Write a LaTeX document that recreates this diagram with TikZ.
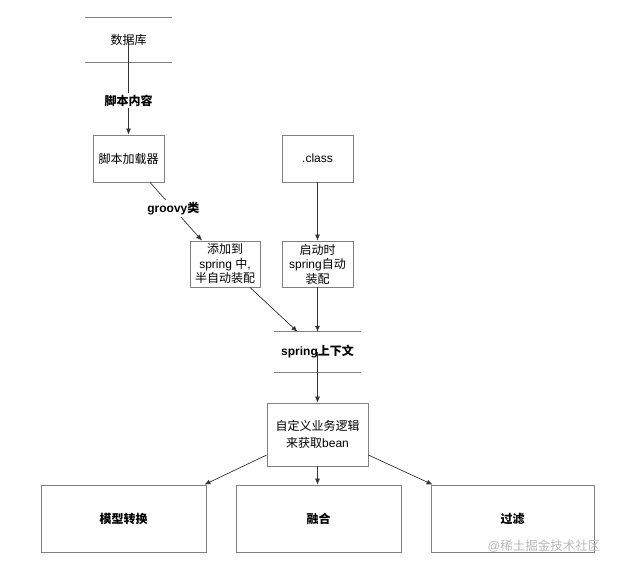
\documentclass[tikz,border=0pt]{standalone}
\usepackage{fontspec}
\setmainfont{Liberation Sans}
\newfontfamily\cjk{Noto Sans CJK SC}
\newcommand{\zh}[1]{{\cjk #1}}
\usetikzlibrary{arrows.meta,calc}
\tikzset{
  box/.style={draw=black!50, line width=0.8pt, inner sep=0pt, align=center, font=\fontsize{12}{15}\selectfont},
  bbox/.style={box, font=\fontsize{12}{15}\selectfont\bfseries},
  store/.style={inner sep=0pt, align=center, font=\fontsize{12}{15}\selectfont},
  conn/.style={draw=black!80, line width=0.7pt, -{Latex[length=6pt,width=5pt]}},
  lbl/.style={fill=white, inner sep=2pt, font=\fontsize{12}{15}\selectfont\bfseries},
  storeline/.style={draw=black!50, line width=0.8pt}
}
\begin{document}
\begin{tikzpicture}[x=1pt,y=-1pt]
\useasboundingbox (0,0) rectangle (623,571);
% nodes
\node[store, minimum width=87pt, minimum height=44pt] (db) at (128.5,40) {\zh{数据库}};
\node[box, minimum width=71pt, minimum height=47pt] (loader) at (128.5,158.5) {\zh{脚本加载器}};
\node[box, minimum width=71pt, minimum height=47pt] (cls) at (317.5,158.5) {.class};
\node[box, minimum width=70pt, minimum height=46pt, font=\fontsize{12}{14.5}\selectfont] (add) at (225,264) {\zh{添加到}\\spring \zh{中},\\\zh{半自动装配}};
\node[box, minimum width=71pt, minimum height=46pt, font=\fontsize{12}{14.5}\selectfont] (start) at (317.5,264) {\zh{启动时}\\spring\zh{自动}\\\zh{装配}};
\node[store, minimum width=87pt, minimum height=40pt, font=\fontsize{12}{15}\selectfont\bfseries] (ctx) at (317.5,352) {spring\zh{上下文}};
\node[box, minimum width=101pt, minimum height=63pt, font=\fontsize{12}{17}\selectfont] (custom) at (317.5,434.5) {\zh{自定义业务逻辑}\\\zh{来获取}bean};
\node[bbox, minimum width=165pt, minimum height=67pt] (b1) at (123.5,518.5) {\zh{模型转换}};
\node[bbox, minimum width=165pt, minimum height=67pt] (b2) at (318.5,518.5) {\zh{融合}};
\node[bbox, minimum width=163pt, minimum height=67pt] (b3) at (512.5,518.5) {\zh{过滤}};
% datastore lines
\draw[storeline] (db.north west) -- (db.north east);
\draw[storeline] (db.south west) -- (db.south east);
\draw[storeline] (ctx.north west) -- (ctx.north east);
\draw[storeline] (ctx.south west) -- (ctx.south east);
% connectors
\draw[conn] (db.center) -- node[lbl, pos=0.64] {\zh{脚本内容}} (loader.north);
\draw[conn] ([xshift=21.5pt]loader.south) -- node[lbl, pos=0.45] {groovy\zh{类}} ([xshift=-23pt]add.north);
\draw[conn] (cls.south) -- (start.north);
\draw[conn] ([xshift=25pt]add.south) -- ([xshift=-20pt]ctx.north);
\draw[conn] (start.south) -- (ctx.north);
\draw[conn] (ctx.center) -- (custom.north);
\draw[conn] (custom.south) -- (b2.north -| custom.south);
\draw[conn] ([yshift=-20.5pt]custom.west) -- ([xshift=-2pt]b1.north east);
\draw[conn] ([yshift=-20.5pt]custom.east) -- ([xshift=2pt]b3.north west);
% watermark
\node[text=black!28, font=\fontsize{12.5}{15}\selectfont, inner sep=0pt] (wm) at (544,546) {@\zh{稀土掘金技术社区}};
\end{tikzpicture}
\end{document}
